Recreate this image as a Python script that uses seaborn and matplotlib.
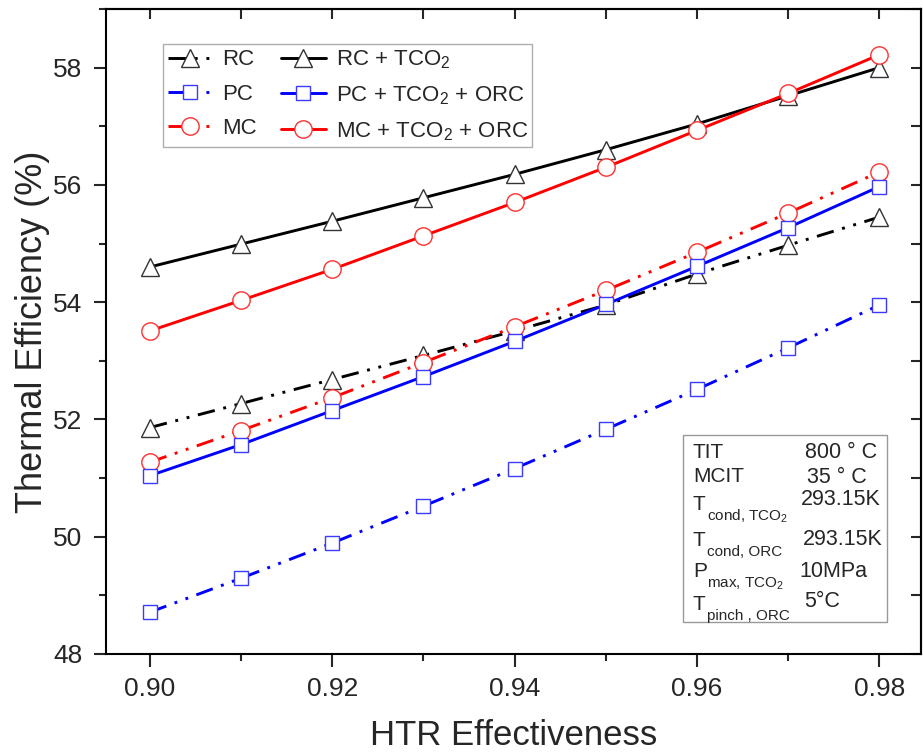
import numpy as np
import pandas as pd
import seaborn as sns
import matplotlib.pyplot as plt
from matplotlib.ticker import MultipleLocator
from matplotlib.patches import Rectangle

# HTR effectiveness values
htr = [0.90, 0.91, 0.92, 0.93, 0.94, 0.95, 0.96, 0.97, 0.98]

# thermal efficiency (%)
rc = [51.86, 52.27, 52.68, 53.09, 53.51, 53.95, 54.48, 54.97, 55.45]
pc = [48.71, 49.29, 49.89, 50.52, 51.16, 51.83, 52.51, 53.22, 53.95]
mc = [51.27, 51.81, 52.37, 52.97, 53.58, 54.20, 54.85, 55.52, 56.22]
rc_tco2 = [54.60, 54.99, 55.38, 55.78, 56.18, 56.60, 57.04, 57.52, 58.00]
pc_tco2_orc = [51.04, 51.57, 52.15, 52.73, 53.33, 53.96, 54.61, 55.27, 55.97]
mc_tco2_orc = [53.51, 54.03, 54.56, 55.13, 55.70, 56.30, 56.93, 57.56, 58.22]

sns.set_style("ticks")
plt.rcParams['font.family'] = ['Liberation Sans', 'DejaVu Sans']
plt.rcParams['mathtext.fontset'] = 'custom'
plt.rcParams['mathtext.rm'] = 'Liberation Sans'
plt.rcParams['mathtext.it'] = 'Liberation Sans:italic'

fig = plt.figure(figsize=(9.23, 7.55), dpi=100)
ax = fig.add_axes([0.115, 0.134, 0.883, 0.854])

ddot = (0, (6, 3, 1, 3, 1, 3))
lw = 2.1

series = [
    (rc, 'RC', 'black', '^', '#333333', ddot),
    (pc, 'PC', 'blue', 's', '#3b3bff', ddot),
    (mc, 'MC', 'red', 'o', '#ff3030', ddot),
    (rc_tco2, 'RC + TCO$_2$', 'black', '^', '#333333', '-'),
    (pc_tco2_orc, 'PC + TCO$_2$ + ORC', 'blue', 's', '#3b3bff', '-'),
    (mc_tco2_orc, 'MC + TCO$_2$ + ORC', 'red', 'o', '#ff3030', '-'),
]
msizes = {'^': 13, 'o': 12.5, 's': 10}

for vals, lab, col, mk, ec, ls in series:
    sns.lineplot(x=htr, y=vals, ax=ax, color=col, linestyle=ls, linewidth=lw,
                 marker=mk, markersize=msizes[mk], markerfacecolor='white',
                 markeredgecolor=ec, markeredgewidth=1.0, label=lab)

ax.set_xlim(0.8952, 0.9846)
ax.set_ylim(48, 59)
ax.xaxis.set_minor_locator(MultipleLocator(0.01))
ax.yaxis.set_major_locator(MultipleLocator(2))
ax.yaxis.set_minor_locator(MultipleLocator(1))
ax.set_xticks([0.90, 0.92, 0.94, 0.96, 0.98])
ax.set_xticklabels(['0.90', '0.92', '0.94', '0.96', '0.98'])

for s in ax.spines.values():
    s.set_linewidth(1.5)
    s.set_color('black')
ax.tick_params(which='major', direction='out', length=9, width=1.5, labelsize=19, pad=8)
ax.tick_params(which='minor', direction='out', length=5, width=1.5)

# mirrored ticks on top and right
top = ax.secondary_xaxis('top')
top.xaxis.set_major_locator(MultipleLocator(0.01))
top.tick_params(direction='in', length=7, width=1.5, labeltop=False)
top.spines['top'].set_linewidth(1.5)
right = ax.secondary_yaxis('right')
right.yaxis.set_major_locator(MultipleLocator(1))
right.tick_params(direction='in', length=7, width=1.5, labelright=False)
right.spines['right'].set_linewidth(1.5)

ax.set_xlabel('HTR Effectiveness', fontsize=25, labelpad=13)
ax.set_ylabel('Thermal Efficiency (%)', fontsize=26, labelpad=2)

leg = ax.legend(ncol=2, loc='upper left', bbox_to_anchor=(0.07, 0.946),
                borderaxespad=0, fontsize=16, frameon=True, fancybox=False,
                edgecolor='#999999', handlelength=2.0, handletextpad=0.45,
                columnspacing=1.1, labelspacing=0.6, borderpad=0.2)
leg.get_frame().set_linewidth(1.0)

# parameter box
ax.add_patch(Rectangle((0.708, 0.0496), 0.25, 0.29, transform=ax.transAxes,
                       facecolor='white', edgecolor='#999999', linewidth=1.0, zorder=5))

par_main = ['TIT', 'MCIT', 'T', 'T', 'P', 'T']
par_sub = ['', '', 'cond, TCO$_2$', 'cond, ORC', 'max, TCO$_2$', 'pinch , ORC']
par_val = ['800 ° C', '35 ° C', '293.15K', '293.15K', '10MPa', '5°C']
main_y = [0.304, 0.267, 0.223, 0.168, 0.119, 0.068]
val_y = [0.304, 0.265, 0.231, 0.169, 0.119, 0.073]
val_x = [0.857, 0.860, 0.853, 0.855, 0.851, 0.857]

for i in range(len(par_main)):
    ax.text(0.720, main_y[i], par_main[i], transform=ax.transAxes, fontsize=15,
            va='baseline', ha='left', zorder=6)
    if par_sub[i]:
        ax.text(0.737, main_y[i] - 0.016, par_sub[i], transform=ax.transAxes,
                fontsize=11, va='baseline', ha='left', zorder=6)
    ax.text(val_x[i], val_y[i], par_val[i], transform=ax.transAxes, fontsize=15.5,
            va='baseline', ha='left', zorder=6)

fig.savefig('out.png', dpi=100)
